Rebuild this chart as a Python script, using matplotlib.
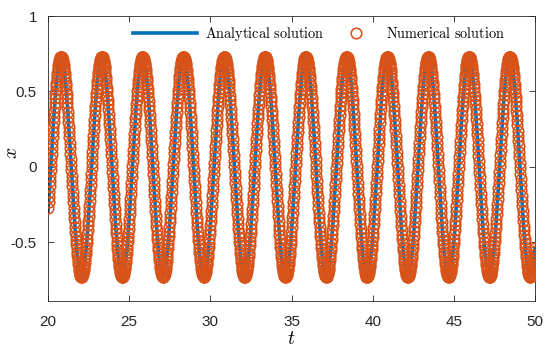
import numpy as np
import matplotlib.pyplot as plt

plt.rcParams['mathtext.fontset'] = 'cm'
plt.rcParams['font.family'] = ['Liberation Sans', 'DejaVu Sans']

# values (period, amplitude, phase of the oscillation)
T_START, T_END = 20.0, 50.0
AMPLITUDE = 0.73
OMEGA = 2.5
T_PEAK = 20.8
STEP_NUM = 0.02

X_TICKS = [20, 25, 30, 35, 40, 45, 50]
Y_TICKS = [-0.5, 0, 0.5, 1]
Y_TICK_LABELS = ['-0.5', '0', '0.5', '1']

t_an = np.linspace(T_START, T_END, 3000)
x_an = AMPLITUDE * np.cos(OMEGA * (t_an - T_PEAK))
t_num = np.arange(T_START + STEP_NUM, T_END + 1e-9, STEP_NUM)
x_num = AMPLITUDE * np.cos(OMEGA * (t_num - T_PEAK))

fig = plt.figure(figsize=(5.5, 3.54), dpi=100)
ax = fig.add_axes([0.0873, 0.1497, 0.8854, 0.8051])

l_an, = ax.plot(t_an, x_an, color='#0072BD', lw=2.6, zorder=2)
l_num, = ax.plot(t_num, x_num, 'o', mfc='none', mec='#D95319', mew=1.15, ms=7.6, zorder=3)

ax.set_xlim(T_START, T_END)
ax.set_ylim(-0.89, 1)
ax.set_xticks(X_TICKS)
ax.set_yticks(Y_TICKS)
ax.set_yticklabels(Y_TICK_LABELS)
ax.tick_params(direction='in', top=True, right=True, labelsize=11, colors='#262626',
               length=4, width=0.6)
ax.tick_params(axis='x', pad=10)
ax.tick_params(axis='y', pad=8)
for s in ax.spines.values():
    s.set_color('#262626')
    s.set_linewidth(0.6)

ax.set_xlabel(r'$t$', fontsize=14)
ax.xaxis.set_label_coords(0.5, -0.105)
ax.set_ylabel(r'$x$', fontsize=14, rotation=90)
ax.yaxis.set_label_coords(-0.055, 0.52)

leg1 = ax.legend([l_an], [r'$\mathrm{Analytical\ solution}$'], loc='center left',
                 bbox_to_anchor=(133 / 550, 1 - 34 / 354), bbox_transform=fig.transFigure,
                 frameon=False, fontsize=10.3, borderpad=0, borderaxespad=0,
                 handlelength=4.5, handletextpad=0.55)
ax.add_artist(leg1)
ax.legend([l_num], [r'$\mathrm{Numerical\ solution}$'], loc='center left',
          bbox_to_anchor=(342 / 550, 1 - 34 / 354), bbox_transform=fig.transFigure,
          frameon=False, fontsize=10.3, borderpad=0, borderaxespad=0,
          handlelength=2.0, handletextpad=1.05)

fig.savefig('out.png', dpi=100)
